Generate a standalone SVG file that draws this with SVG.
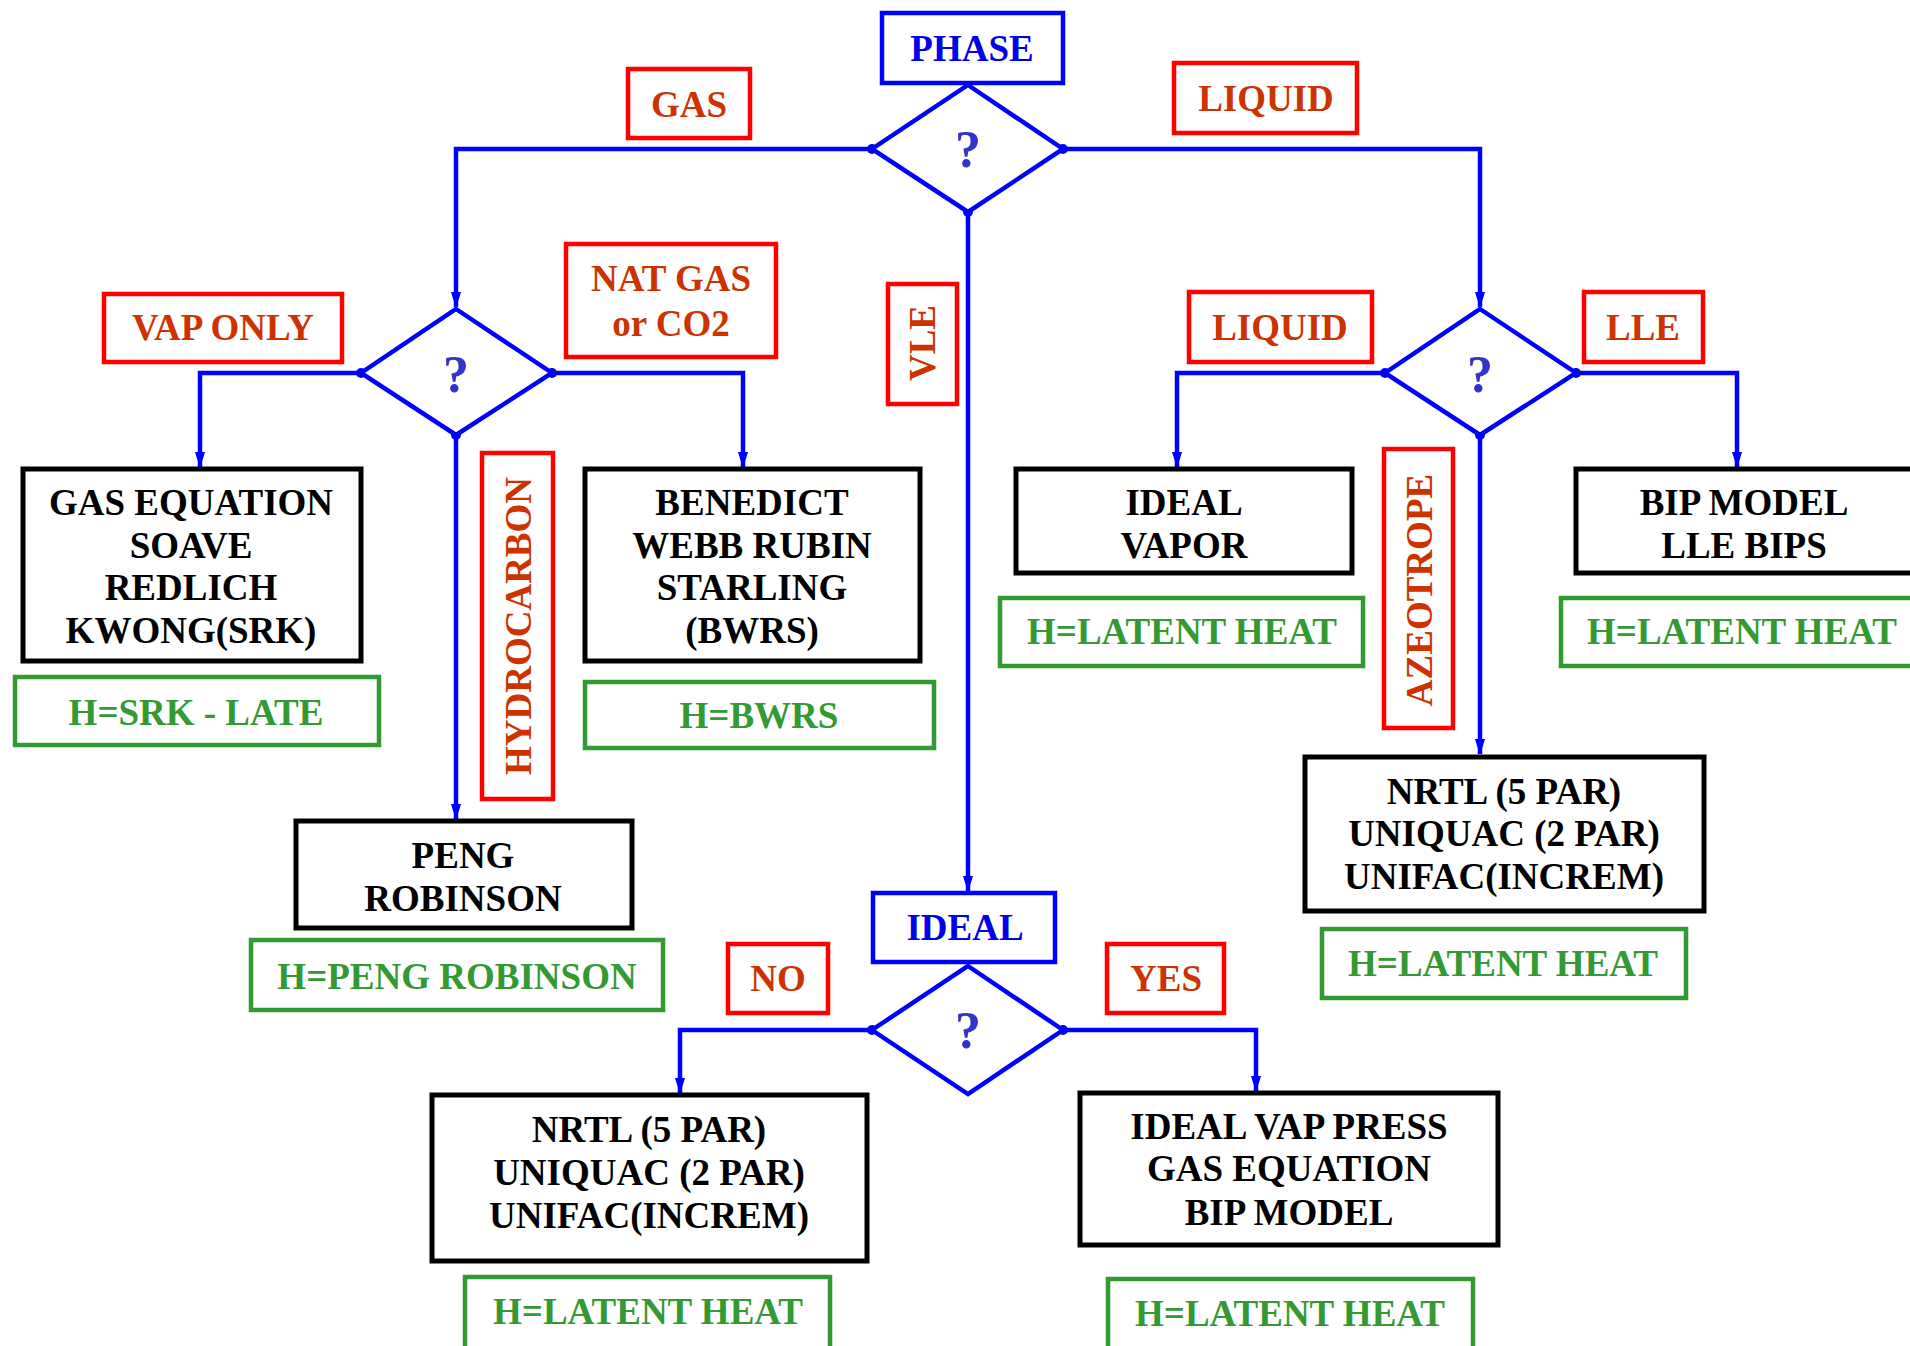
<svg xmlns="http://www.w3.org/2000/svg" width="1910" height="1346" viewBox="0 0 1910 1346">
<style>
text{font-family:"Liberation Serif","Times New Roman",serif;font-weight:bold;font-size:37px;text-anchor:middle}
.blk rect{fill:#fff;stroke:#000;stroke-width:5}
.blk text{fill:#000}
.grn rect{fill:#fff;stroke:#339933;stroke-width:4.5}
.grn text{fill:#339933}
.red rect{fill:#fff;stroke:#ff0000;stroke-width:4.5}
.red text{fill:#cc3300}
.bluebox rect{fill:#fff;stroke:#0000ff;stroke-width:4.5}
.bluebox text{fill:#0000ee}
.dia polygon{fill:#fff;stroke:#0000ff;stroke-width:4.5;stroke-linejoin:miter}
.dia text{fill:#3333cc;font-size:52px}
#connectors path{fill:none;stroke:#0000ff;stroke-width:4.5}
#connectors circle{fill:#0000ff}
</style>
<defs>
<marker id="arr" viewBox="0 0 16 10" markerWidth="16" markerHeight="10" refX="15" refY="5" orient="auto" markerUnits="userSpaceOnUse">
<path d="M0,0 L16,5 L0,10 Z" fill="#0000ff"/>
</marker>
</defs>
<rect width="1910" height="1346" fill="#fff"/>

<g id="connectors">
<path d="M872,149 H456 V307" marker-end="url(#arr)"/>
<path d="M1063,149 H1480 V307" marker-end="url(#arr)"/>
<path d="M968,212 V891" marker-end="url(#arr)"/>
<path d="M361,373 H200 V467" marker-end="url(#arr)"/>
<path d="M552,373 H743 V467" marker-end="url(#arr)"/>
<path d="M456,435 V819" marker-end="url(#arr)"/>
<path d="M1385,373 H1177 V467" marker-end="url(#arr)"/>
<path d="M1576,373 H1737 V467" marker-end="url(#arr)"/>
<path d="M1480,435 V754" marker-end="url(#arr)"/>
<path d="M872,1030 H680 V1093" marker-end="url(#arr)"/>
<path d="M1063,1030 H1256 V1091" marker-end="url(#arr)"/>
<circle cx="872" cy="149" r="5"/><circle cx="1063" cy="149" r="5"/><circle cx="968" cy="212" r="5"/>
<circle cx="361" cy="373" r="5"/><circle cx="552" cy="373" r="5"/><circle cx="456" cy="435" r="5"/>
<circle cx="1385" cy="373" r="5"/><circle cx="1576" cy="373" r="5"/><circle cx="1480" cy="435" r="5"/>
<circle cx="872" cy="1030" r="5"/><circle cx="1063" cy="1030" r="5"/>
</g>

<g id="phase" class="bluebox"><rect x="882" y="13" width="181" height="70"/><text x="972" y="61">PHASE</text></g>
<g id="d1" class="dia"><polygon points="968,85 1063,149 968,212 872,149"/><text x="968" y="167">?</text></g>
<g id="lbl-gas" class="red"><rect x="628" y="69" width="122" height="69"/><text x="689" y="117">GAS</text></g>
<g id="lbl-liquid1" class="red"><rect x="1174" y="63" width="183" height="70"/><text x="1266" y="111">LIQUID</text></g>

<g id="d2" class="dia"><polygon points="456,309 552,373 456,435 361,373"/><text x="456" y="392">?</text></g>
<g id="lbl-vaponly" class="red"><rect x="104" y="294" width="238" height="68"/><text x="223" y="340">VAP ONLY</text></g>
<g id="lbl-natgas" class="red"><rect x="566" y="244" width="210" height="113"/><text x="671" y="291">NAT GAS</text><text x="671" y="336">or CO2</text></g>
<g id="lbl-hydrocarbon" class="red"><rect x="482" y="453" width="71" height="346"/><text transform="translate(518,626) rotate(-90)" y="13">HYDROCARBON</text></g>
<g id="srk" class="blk"><rect x="23" y="469" width="338" height="192"/><text x="191" y="515">GAS EQUATION</text><text x="191" y="558">SOAVE</text><text x="191" y="600">REDLICH</text><text x="191" y="643">KWONG(SRK)</text></g>
<g id="h-srk" class="grn"><rect x="15" y="677" width="364" height="68"/><text x="196" y="725">H=SRK - LATE</text></g>
<g id="bwrs" class="blk"><rect x="585" y="469" width="335" height="192"/><text x="752" y="515">BENEDICT</text><text x="752" y="558">WEBB RUBIN</text><text x="752" y="600">STARLING</text><text x="752" y="643">(BWRS)</text></g>
<g id="h-bwrs" class="grn"><rect x="585" y="682" width="349" height="66"/><text x="759" y="728">H=BWRS</text></g>
<g id="peng" class="blk"><rect x="296" y="821" width="336" height="107"/><text x="463" y="868">PENG</text><text x="463" y="911">ROBINSON</text></g>
<g id="h-peng" class="grn"><rect x="251" y="940" width="412" height="70"/><text x="457" y="989">H=PENG ROBINSON</text></g>

<g id="lbl-vle" class="red"><rect x="888" y="284" width="69" height="120"/><text transform="translate(922,343) rotate(-90)" y="13">VLE</text></g>
<g id="ideal" class="bluebox"><rect x="873" y="893" width="182" height="69"/><text x="965" y="940">IDEAL</text></g>
<g id="d3" class="dia"><polygon points="968,966 1063,1030 968,1094 872,1030"/><text x="968" y="1048">?</text></g>
<g id="lbl-no" class="red"><rect x="728" y="944" width="100" height="69"/><text x="778" y="991">NO</text></g>
<g id="lbl-yes" class="red"><rect x="1107" y="944" width="117" height="69"/><text x="1166" y="991">YES</text></g>
<g id="nrtl-bl" class="blk"><rect x="432" y="1095" width="435" height="166"/><text x="649" y="1142">NRTL (5 PAR)</text><text x="649" y="1185">UNIQUAC (2 PAR)</text><text x="649" y="1228">UNIFAC(INCREM)</text></g>
<g id="h-bl" class="grn"><rect x="465" y="1277" width="365" height="75"/><text x="648" y="1324">H=LATENT HEAT</text></g>
<g id="idealvap" class="blk"><rect x="1080" y="1093" width="418" height="152"/><text x="1289" y="1139">IDEAL VAP PRESS</text><text x="1289" y="1181">GAS EQUATION</text><text x="1289" y="1225">BIP MODEL</text></g>
<g id="h-br" class="grn"><rect x="1108" y="1279" width="365" height="75"/><text x="1290" y="1326">H=LATENT HEAT</text></g>

<g id="d4" class="dia"><polygon points="1480,309 1576,373 1480,435 1385,373"/><text x="1480" y="392">?</text></g>
<g id="lbl-liquid2" class="red"><rect x="1189" y="292" width="183" height="70"/><text x="1280" y="340">LIQUID</text></g>
<g id="lbl-lle" class="red"><rect x="1584" y="292" width="119" height="70"/><text x="1643" y="340">LLE</text></g>
<g id="lbl-azeotrope" class="red"><rect x="1384" y="449" width="69" height="279"/><text transform="translate(1419,590) rotate(-90)" y="13">AZEOTROPE</text></g>
<g id="idealvapor" class="blk"><rect x="1016" y="469" width="336" height="104"/><text x="1184" y="515">IDEAL</text><text x="1184" y="558">VAPOR</text></g>
<g id="h-iv" class="grn"><rect x="1000" y="598" width="363" height="68"/><text x="1182" y="644">H=LATENT HEAT</text></g>
<g id="bip" class="blk"><rect x="1576" y="469" width="345" height="104"/><text x="1744" y="515">BIP MODEL</text><text x="1744" y="558">LLE BIPS</text></g>
<g id="h-bip" class="grn"><rect x="1561" y="598" width="360" height="68"/><text x="1742" y="644">H=LATENT HEAT</text></g>
<g id="nrtl-r" class="blk"><rect x="1305" y="757" width="399" height="154"/><text x="1504" y="804">NRTL (5 PAR)</text><text x="1504" y="846">UNIQUAC (2 PAR)</text><text x="1504" y="889">UNIFAC(INCREM)</text></g>
<g id="h-nr" class="grn"><rect x="1322" y="929" width="364" height="69"/><text x="1503" y="976">H=LATENT HEAT</text></g>
</svg>
